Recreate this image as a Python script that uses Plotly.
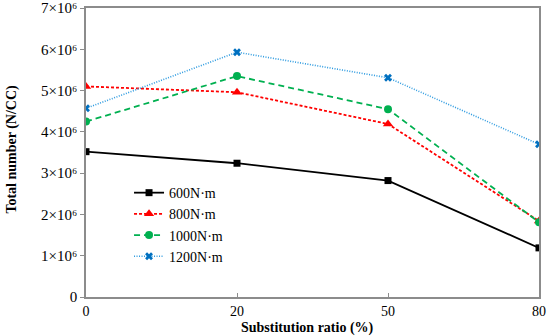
import plotly.graph_objects as go

categories = ["0", "20", "50", "80"]
series_names = ["600N·m", "800N·m", "1000N·m", "1200N·m"]
v600 = [3.52e6, 3.24e6, 2.82e6, 1.19e6]
v800 = [5.10e6, 4.96e6, 4.19e6, 1.84e6]
v1000 = [4.25e6, 5.35e6, 4.55e6, 1.81e6]
v1200 = [4.57e6, 5.93e6, 5.31e6, 3.70e6]
y_tick_vals = [0, 1e6, 2e6, 3e6, 4e6, 5e6, 6e6, 7e6]
y_tick_text = ["0", "1×10⁶", "2×10⁶", "3×10⁶", "4×10⁶", "5×10⁶", "6×10⁶", "7×10⁶"]

xi = list(range(len(categories)))
font = "Liberation Serif, Times New Roman, serif"

styles = [
    dict(line=dict(color="black", width=1.8, dash="solid"),
         marker=dict(symbol="square", size=7, color="black")),
    dict(line=dict(color="#FF0000", width=1.8, dash="3px,2px"),
         marker=dict(symbol="triangle-up", size=9, color="#FF0000")),
    dict(line=dict(color="#00B050", width=1.8, dash="6px,4px"),
         marker=dict(symbol="circle", size=8, color="#00B050")),
    dict(line=dict(color="#2E9BE0", width=1.6, dash="1px,1.5px"),
         marker=dict(symbol="x", size=7, color="#0070C0")),
]

fig = go.Figure()
for name, vals, st in zip(series_names, [v600, v800, v1000, v1200], styles):
    fig.add_trace(go.Scatter(x=xi, y=vals, mode="lines+markers", name=name,
                             line=st["line"], marker=st["marker"]))

fig.update_layout(
    width=550, height=336,
    margin=dict(l=86, r=11, t=8, b=39, autoexpand=False),
    paper_bgcolor="white", plot_bgcolor="white",
    font=dict(family=font, size=13, color="black"),
    showlegend=True,
    legend=dict(x=0.095, y=0.415, xanchor="left", yanchor="top",
                bgcolor="rgba(0,0,0,0)", font=dict(family=font, size=14),
                tracegroupgap=0, itemwidth=30),
    xaxis=dict(range=[0, 3], tickvals=xi, ticktext=categories,
               showgrid=False, zeroline=False,
               showline=True, linecolor="#8c8c8c", linewidth=1.5, mirror=True,
               ticks="inside", ticklen=4, tickcolor="#8c8c8c",
               ticklabeloverflow="allow",
               tickfont=dict(family=font, size=14)),
    yaxis=dict(range=[0, 7e6], tickvals=y_tick_vals, ticktext=y_tick_text,
               showgrid=False, zeroline=False,
               showline=True, linecolor="#8c8c8c", linewidth=1.5, mirror=True,
               ticks="outside", ticklen=4, tickcolor="#8c8c8c",
               ticklabeloverflow="allow",
               tickfont=dict(family=font, size=15)),
    annotations=[
        dict(text="<b>Substitution ratio (%)</b>", xref="paper", yref="paper",
             x=0.49, y=0, yshift=-31, xanchor="center", yanchor="middle",
             showarrow=False, font=dict(family=font, size=14)),
        dict(text="<b>Total number (N/CC)</b>", xref="paper", yref="paper",
             x=0, xshift=-74, y=0.51, textangle=-90, xanchor="center",
             yanchor="middle", showarrow=False, font=dict(family=font, size=14)),
    ],
)

fig.write_html("out.html", config={"displayModeBar": False},
               post_script="document.body.style.margin='0';")
